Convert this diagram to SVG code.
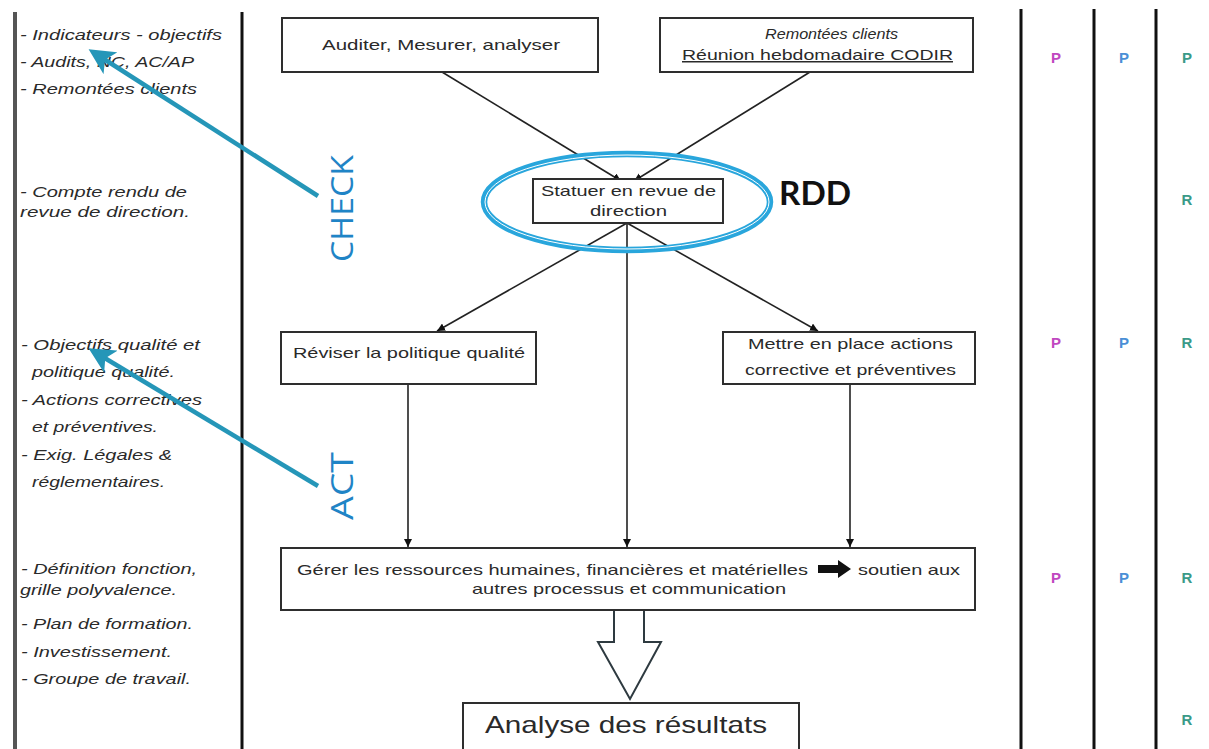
<svg xmlns="http://www.w3.org/2000/svg" width="1209" height="749" viewBox="0 0 1209 749">
<defs>
<style>
.box{fill:#fff;stroke:#2e2e2e;stroke-width:2}
.t{font-family:"Liberation Sans",Arial,sans-serif;font-size:15px;fill:#2a2a2a}
.c{text-anchor:middle}
.it{font-family:"Liberation Sans",Arial,sans-serif;font-size:15px;font-style:italic;fill:#2a2a2a}
.conn{stroke:#222;stroke-width:1.6;fill:none}
.teal{stroke:#2596b8;stroke-width:4.5;fill:none}
.vl{stroke:#111;stroke-width:3}
.pdca{font-family:"Open Sans","DejaVu Sans",sans-serif;font-size:31px;fill:#1f84c6}
.let{font-family:"Liberation Sans",Arial,sans-serif;font-size:15px;font-weight:bold;text-anchor:middle}
</style>
<marker id="ah" viewBox="0 0 10 10" refX="10" refY="5" markerWidth="8" markerHeight="8" markerUnits="userSpaceOnUse" orient="auto">
<path d="M0,0 L10,5 L0,10 z" fill="#111"/>
</marker>
<marker id="th" viewBox="0 0 10 10" refX="8" refY="5" markerWidth="26" markerHeight="26" markerUnits="userSpaceOnUse" orient="auto">
<path d="M0,0 L10,5 L0,10 L2.5,5 z" fill="#2596b8"/>
</marker>
</defs>
<rect width="1209" height="749" fill="#fff"/>

<g id="columns">
<line x1="15" y1="12" x2="15" y2="749" stroke="#555" stroke-width="4"/>
<line x1="242" y1="12" x2="242" y2="749" class="vl" stroke-width="2.5"/>
<line x1="1021" y1="9" x2="1021" y2="749" class="vl"/>
<line x1="1094" y1="9" x2="1094" y2="749" class="vl"/>
<line x1="1156" y1="9" x2="1156" y2="749" class="vl" stroke-width="4"/>
</g>

<g id="left-notes">
<text class="it" x="20" y="40" textLength="202" lengthAdjust="spacingAndGlyphs">- Indicateurs - objectifs</text>
<text class="it" x="20" y="67" textLength="174" lengthAdjust="spacingAndGlyphs">- Audits, NC, AC/AP</text>
<text class="it" x="20" y="94" textLength="177" lengthAdjust="spacingAndGlyphs">- Remontées clients</text>
<text class="it" x="20" y="197" textLength="167" lengthAdjust="spacingAndGlyphs">- Compte rendu de</text>
<text class="it" x="20" y="217" textLength="170" lengthAdjust="spacingAndGlyphs">revue de direction.</text>
<text class="it" x="21" y="350" textLength="179" lengthAdjust="spacingAndGlyphs">- Objectifs qualité et</text>
<text class="it" x="32" y="377" textLength="143" lengthAdjust="spacingAndGlyphs">politique qualité.</text>
<text class="it" x="21" y="405" textLength="181" lengthAdjust="spacingAndGlyphs">- Actions correctives</text>
<text class="it" x="32" y="432" textLength="126" lengthAdjust="spacingAndGlyphs">et préventives.</text>
<text class="it" x="21" y="460" textLength="151" lengthAdjust="spacingAndGlyphs">- Exig. Légales &amp;</text>
<text class="it" x="32" y="487" textLength="133" lengthAdjust="spacingAndGlyphs">réglementaires.</text>
<text class="it" x="21" y="574" textLength="176" lengthAdjust="spacingAndGlyphs">- Définition fonction,</text>
<text class="it" x="20" y="595" textLength="157" lengthAdjust="spacingAndGlyphs">grille polyvalence.</text>
<text class="it" x="21" y="629" textLength="172" lengthAdjust="spacingAndGlyphs">- Plan de formation.</text>
<text class="it" x="21" y="657" textLength="151" lengthAdjust="spacingAndGlyphs">- Investissement.</text>
<text class="it" x="21" y="684" textLength="170" lengthAdjust="spacingAndGlyphs">- Groupe de travail.</text>
</g>

<g id="connectors">
<line class="conn" x1="442" y1="72" x2="621" y2="181" marker-end="url(#ah)"/>
<line class="conn" x1="810" y1="72" x2="634" y2="181" marker-end="url(#ah)"/>
<line class="conn" x1="627" y1="223" x2="437" y2="331" marker-end="url(#ah)"/>
<line class="conn" x1="627" y1="223" x2="627" y2="547" marker-end="url(#ah)"/>
<line class="conn" x1="627" y1="223" x2="818" y2="331" marker-end="url(#ah)"/>
<line class="conn" x1="408" y1="384" x2="408" y2="547" marker-end="url(#ah)"/>
<line class="conn" x1="850" y1="384" x2="850" y2="547" marker-end="url(#ah)"/>
<polygon points="614,610 644,610 644,642 661,642 630,699 598,642 614,642" fill="#fff" stroke="#2e3a40" stroke-width="2" stroke-linejoin="miter"/>
</g>

<g id="pdca-arrows">
<line class="teal" x1="318" y1="196" x2="93" y2="52" marker-end="url(#th)"/>
<line class="teal" x1="318" y1="486" x2="93" y2="351" marker-end="url(#th)"/>
</g>

<g id="node-auditer">
<rect class="box" x="282" y="18" width="316" height="54"/>
<text class="t" x="322" y="50" textLength="238" lengthAdjust="spacingAndGlyphs">Auditer, Mesurer, analyser</text>
</g>

<g id="node-remontees">
<rect class="box" x="660" y="18" width="313" height="54"/>
<text class="it" x="765" y="39" textLength="133" lengthAdjust="spacingAndGlyphs" font-size="14">Remontées clients</text>
<text class="t" x="682" y="60" textLength="271" lengthAdjust="spacingAndGlyphs" text-decoration="underline">Réunion hebdomadaire CODIR</text>
</g>

<g id="node-statuer">
<rect class="box" x="533" y="179" width="190" height="44"/>
<text class="t" x="541" y="196" textLength="175" lengthAdjust="spacingAndGlyphs">Statuer en revue de</text>
<text class="t" x="590" y="216" textLength="77" lengthAdjust="spacingAndGlyphs">direction</text>
</g>

<g id="rdd-ellipse">
<ellipse cx="627" cy="202" rx="143" ry="48" fill="none" stroke="#29a6dc" stroke-width="6.5"/>
<ellipse cx="627" cy="202" rx="142" ry="47" fill="none" stroke="#fff" stroke-width="1"/>
<text x="779" y="205" font-family="Lato,'Open Sans',sans-serif" font-weight="bold" font-size="33" fill="#111" textLength="72" lengthAdjust="spacingAndGlyphs">RDD</text>
</g>

<g id="label-check">
<text class="pdca" transform="translate(353,262) rotate(-90)" textLength="107" lengthAdjust="spacingAndGlyphs">CHECK</text>
</g>
<g id="label-act">
<text class="pdca" transform="translate(353,520) rotate(-90)" textLength="68" lengthAdjust="spacingAndGlyphs">ACT</text>
</g>

<g id="node-reviser">
<rect class="box" x="281" y="332" width="255" height="52"/>
<text class="t" x="293" y="358" textLength="232" lengthAdjust="spacingAndGlyphs">Réviser la politique qualité</text>
</g>

<g id="node-mettre">
<rect class="box" x="723" y="332" width="252" height="52"/>
<text class="t" x="748" y="349" textLength="205" lengthAdjust="spacingAndGlyphs">Mettre en place actions</text>
<text class="t" x="745" y="375" textLength="211" lengthAdjust="spacingAndGlyphs">corrective et préventives</text>
</g>

<g id="node-gerer">
<rect class="box" x="281" y="548" width="694" height="62"/>
<text class="t" x="297" y="575" textLength="511" lengthAdjust="spacingAndGlyphs">Gérer les ressources humaines, financières et matérielles</text>
<polygon points="818,565 838,565 838,560 851,569 838,578 838,573 818,573" fill="#111"/>
<text class="t" x="858" y="575" textLength="102" lengthAdjust="spacingAndGlyphs">soutien aux</text>
<text class="t" x="472" y="594" textLength="314" lengthAdjust="spacingAndGlyphs">autres processus et communication</text>
</g>

<g id="node-analyse">
<rect class="box" x="463" y="703" width="336" height="60"/>
<text x="485" y="733" font-family="Liberation Sans,Arial,sans-serif" font-size="24" fill="#2a2a2a" textLength="282" lengthAdjust="spacingAndGlyphs">Analyse  des résultats</text>
</g>

<g id="raci">
<text class="let" x="1056" y="63" fill="#c048c0">P</text>
<text class="let" x="1124" y="63" fill="#4a8fd6">P</text>
<text class="let" x="1187" y="63" fill="#3a9a88">P</text>
<text class="let" x="1187" y="205" fill="#3a9a88">R</text>
<text class="let" x="1056" y="348" fill="#c048c0">P</text>
<text class="let" x="1124" y="348" fill="#4a8fd6">P</text>
<text class="let" x="1187" y="348" fill="#3a9a88">R</text>
<text class="let" x="1056" y="583" fill="#c048c0">P</text>
<text class="let" x="1124" y="583" fill="#4a8fd6">P</text>
<text class="let" x="1187" y="583" fill="#3a9a88">R</text>
<text class="let" x="1187" y="725" fill="#3a9a88">R</text>
</g>
</svg>
